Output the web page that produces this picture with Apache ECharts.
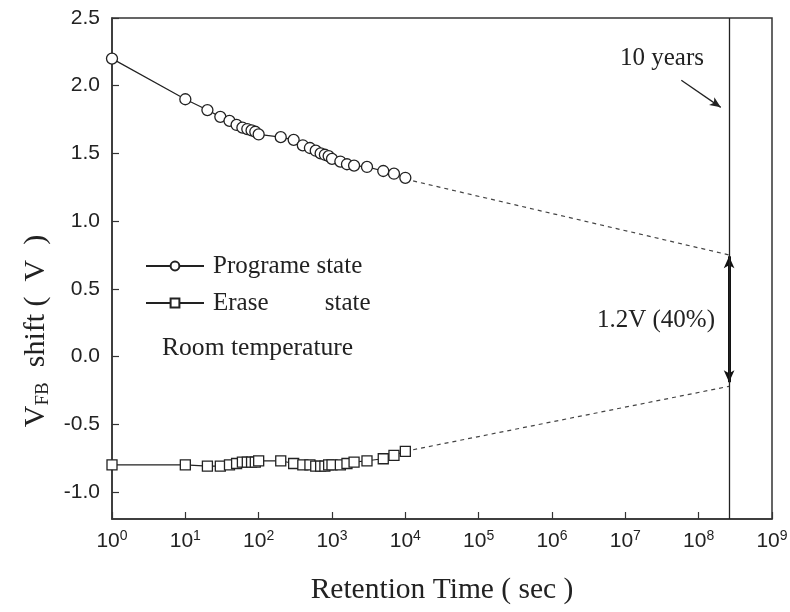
<!DOCTYPE html>
<html>
<head>
<meta charset="utf-8">
<script src="https://cdn.jsdelivr.net/npm/echarts@6/dist/echarts.min.js"></script>
<style>
html,body{margin:0;padding:0;background:#fff;}
#c{width:790px;height:612px;}
</style>
</head>
<body>
<div id="c"></div>
<script>
// ---- data ----
var times = [1,10,20,30,40,50,60,70,80,90,100,200,300,400,500,600,700,800,900,1000,1300,1600,2000,3000,5000,7000,10000];
var programV = [2.20,1.90,1.82,1.77,1.74,1.71,1.69,1.68,1.67,1.66,1.64,1.62,1.60,1.56,1.54,1.52,1.50,1.49,1.48,1.46,1.44,1.42,1.41,1.40,1.37,1.35,1.32];
var eraseV = [-0.80,-0.80,-0.81,-0.81,-0.80,-0.79,-0.78,-0.78,-0.78,-0.78,-0.77,-0.77,-0.79,-0.80,-0.80,-0.81,-0.81,-0.81,-0.80,-0.80,-0.80,-0.79,-0.78,-0.77,-0.755,-0.73,-0.70];
var tenYears = 2.6e8;
var progExtrap = [[10000, 1.31], [tenYears, 0.75]];
var eraseExtrap = [[10000, -0.70], [tenYears, -0.22]];
var windowArrow = [[tenYears, 0.74], [tenYears, -0.19]];
var pointerArrow = [[5.8e7, 2.04], [2.0e8, 1.84]];
var yTicks = [-1.0,-0.5,0.0,0.5,1.0,1.5,2.0,2.5];
var seriesNames = ['Programe state', 'Erase         state'];

var serif = 'Liberation Serif';
var sans = 'Liberation Sans';

function pairs(xs, ys){ return xs.map(function(x,i){ return [x, ys[i]]; }); }

var chart = echarts.init(document.getElementById('c'), null, {renderer:'canvas'});
var option = {
  backgroundColor: '#fff',
  animation: false,
  grid: { left: 112, right: 18, top: 18, bottom: 93, show: true, borderColor: '#333', borderWidth: 1.5, containLabel: false, outerBoundsMode: 'none' },
  legend: {
    orient: 'vertical', left: 140, top: 248, itemWidth: 58, itemHeight: 11, itemGap: 11,
    data: seriesNames,
    textStyle: { fontFamily: serif, fontSize: 25, color: '#222', lineHeight: 26, padding: [0,0,0,4] }
  },
  xAxis: {
    type: 'log', logBase: 10, min: 1, max: 1e9,
    axisLine: { onZero: false, lineStyle: { color: '#333', width: 1.5 } },
    axisTick: { inside: true, length: 7, lineStyle: { color: '#333', width: 1.2 } },
    splitLine: { show: false },
    axisLabel: {
      margin: 10, color: '#222',
      formatter: function(v){ var e = Math.round(Math.log10(v)); return '{b|10}{s|' + e + '}'; },
      rich: {
        b: { fontFamily: sans, fontSize: 21, lineHeight: 24, color: '#222' },
        s: { fontFamily: sans, fontSize: 14, lineHeight: 14, verticalAlign: 'top', color: '#222' }
      }
    },
    name: 'Retention Time ( sec )', nameLocation: 'middle', nameGap: 56,
    nameTextStyle: { fontFamily: serif, fontSize: 29.5, color: '#222' }
  },
  yAxis: {
    type: 'value', min: -1.2, max: 2.5,
    axisLine: { show: true, onZero: false, lineStyle: { color: '#333', width: 1.5 } },
    axisTick: { show: true, inside: true, length: 7, customValues: yTicks, lineStyle: { color: '#333', width: 1.2 } },
    splitLine: { show: false },
    axisLabel: { customValues: yTicks, margin: 12, fontFamily: sans, fontSize: 21, color: '#222',
      formatter: function(v){ return Number(v).toFixed(1); } }
  },
  graphic: [
    { type: 'text', x: 36, y: 331, rotation: Math.PI/2,
      style: { text: '{v|V}{sub|FB}{v|  shift (  V  )}', align: 'center', verticalAlign: 'middle',
        rich: { v: { fontFamily: serif, fontSize: 30, lineHeight: 34, verticalAlign: 'middle', fill: '#222' },
                sub: { fontFamily: serif, fontSize: 19, lineHeight: 19, verticalAlign: 'bottom', fill: '#222' } } } },
    { type: 'text', x: 162, y: 348, style: { text: 'Room temperature', fontFamily: serif, fontSize: 25.6, fill: '#222', align: 'left', verticalAlign: 'middle' } },
    { type: 'text', x: 662, y: 58, style: { text: '10 years', fontFamily: serif, fontSize: 25, fill: '#222', align: 'center', verticalAlign: 'middle' } },
    { type: 'text', x: 715, y: 320, style: { text: '1.2V (40%)', fontFamily: serif, fontSize: 25, fill: '#222', align: 'right', verticalAlign: 'middle' } }
  ],
  series: [
    { name: seriesNames[0], type: 'line', data: pairs(times, programV), symbol: 'circle', symbolSize: 11,
      lineStyle: { color: '#222', width: 1.2 }, itemStyle: { color: '#fff', borderColor: '#222', borderWidth: 1.3 }, z: 5 },
    { name: seriesNames[1], type: 'line', data: pairs(times, eraseV), symbol: 'rect', symbolSize: 10,
      lineStyle: { color: '#222', width: 1.2 }, itemStyle: { color: '#fff', borderColor: '#222', borderWidth: 1.3 }, z: 5 },
    { name: 'progExtrap', type: 'line', data: progExtrap, symbol: 'none', lineStyle: { color: '#444', width: 1.2, type: [4,4] }, z: 3 },
    { name: 'eraseExtrap', type: 'line', data: eraseExtrap, symbol: 'none', lineStyle: { color: '#444', width: 1.2, type: [4,4] }, z: 3,
      markLine: {
        silent: true, animation: false,
        label: { show: false },
        symbol: ['none','none'],
        data: [
          [{ coord: windowArrow[0], symbol: 'arrow', symbolSize: [8, 12] }, { coord: windowArrow[1], symbol: 'arrow', symbolSize: [8, 12], lineStyle: { color: '#111', width: 3, type: 'solid' } }],
          [{ coord: pointerArrow[0], symbol: 'none' }, { coord: pointerArrow[1], symbol: 'arrow', symbolSize: [7, 11], lineStyle: { color: '#222', width: 1.3, type: 'solid' } }],
          { xAxis: tenYears, symbol: 'none', lineStyle: { color: '#222', width: 1.3, type: 'solid' } }
        ]
      }
    }
  ]
};
chart.setOption(option);
</script>
</body>
</html>
